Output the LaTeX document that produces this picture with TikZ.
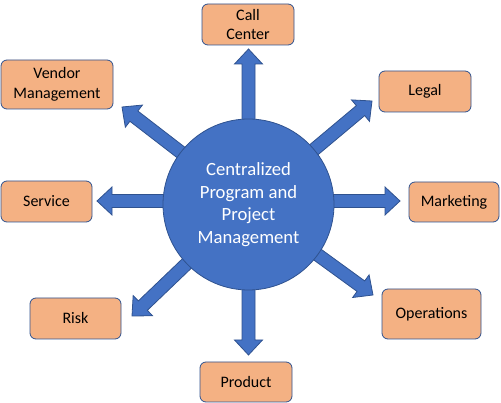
\documentclass[tikz,border=0pt]{standalone}
\usepackage{fontspec}
\setmainfont{Carlito}
\usetikzlibrary{calc,backgrounds}
\definecolor{cblue}{HTML}{4472C4}
\definecolor{cborder}{HTML}{2F528F}
\definecolor{corange}{HTML}{F4B183}
\tikzset{
  box/.style={draw=cborder, fill=corange, line width=0.8pt, rounded corners=6pt,
    align=center, inner sep=0pt, font=\fontsize{16}{19.5}\selectfont, text=black},
  hub/.style={circle, draw=cborder, fill=cblue, line width=0.8pt, inner sep=0pt,
    minimum size=171pt, align=center, text=white, font=\fontsize{18.67}{22.5}\selectfont},
  barrow/.style={fill=cblue, draw=cborder, line width=0.8pt, line join=miter,
    to path={
      ($(\tikztostart)!6.5pt!90:(\tikztotarget)$)
      -- ($($(\tikztotarget)!15pt!(\tikztostart)$)!6.5pt!-90:(\tikztostart)$)
      -- ($($(\tikztotarget)!15pt!(\tikztostart)$)!14pt!-90:(\tikztostart)$)
      -- (\tikztotarget)
      -- ($($(\tikztotarget)!15pt!(\tikztostart)$)!14pt!90:(\tikztostart)$)
      -- ($($(\tikztotarget)!15pt!(\tikztostart)$)!6.5pt!90:(\tikztostart)$)
      -- ($(\tikztostart)!6.5pt!-90:(\tikztotarget)$)
      -- cycle}}
}
\begin{document}
\begin{tikzpicture}[x=1pt,y=-1pt]
\useasboundingbox (0,0) rectangle (501,403);
% hub
\node[hub] (c) at (248.5,204.5) {Centralized\\Program and\\Project\\Management};
% boxes
\node[box, minimum width=92pt, minimum height=41pt] (call) at (248,24.5) {Call\\Center};
\node[box, minimum width=112pt, minimum height=49pt] (vendor) at (57,84.5) {Vendor\\Management};
\node[box, minimum width=92pt, minimum height=41pt] (legal) at (425,91.5) {Legal};
\node[box, minimum width=91pt, minimum height=41pt] (service) at (46.5,201.5) {Service};
\node[box, minimum width=90pt, minimum height=40pt] (marketing) at (454,202) {Marketing};
\node[box, minimum width=99pt, minimum height=50pt] (operations) at (431.5,314) {Operations};
\node[box, minimum width=91pt, minimum height=41pt] (risk) at (75.5,318.5) {Risk};
\node[box, minimum width=92pt, minimum height=40pt] (product) at (246,382) {Product};
% arrow tips
\coordinate (tcall) at (248.5,49);
\coordinate (tvendor) at (122,107);
\coordinate (tlegal) at (372,101);
\coordinate (tservice) at (97,201);
\coordinate (tmarketing) at (400,201);
\coordinate (toperations) at (373,295);
\coordinate (trisk) at (132,316);
\coordinate (tproduct) at (248.5,355);
\begin{scope}[on background layer]
\draw[barrow] (c.center) to (tcall);
\draw[barrow] (c.center) to (tvendor);
\draw[barrow] (c.center) to (tlegal);
\draw[barrow] (c.center |- tservice) to (tservice);
\draw[barrow] (c.center |- tmarketing) to (tmarketing);
\draw[barrow] (c.center) to (toperations);
\draw[barrow] (c.center) to (trisk);
\draw[barrow] (c.center) to (tproduct);
\end{scope}
\end{tikzpicture}
\end{document}
